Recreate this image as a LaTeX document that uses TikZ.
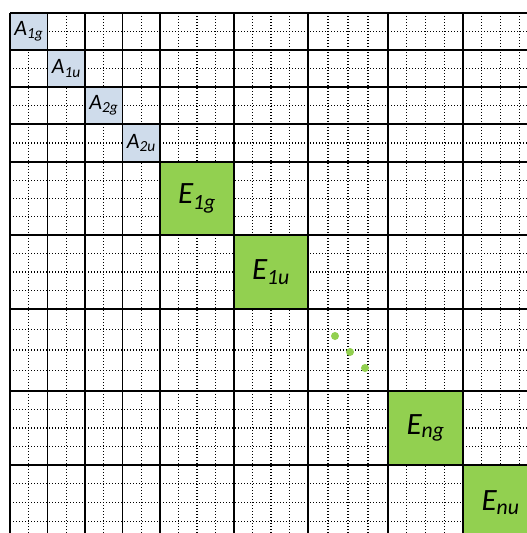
\documentclass[tikz,border=0pt]{standalone}
\usepackage{fontspec}
\setmainfont{Carlito}
\usepackage{tikz}
\definecolor{ablock}{HTML}{CFDCEB}
\definecolor{eblock}{HTML}{92D050}

\begin{document}
\begin{tikzpicture}[x=1pt, y=-1pt,
  major/.style={black, line width=1.6pt},
  minor/.style={black, line width=1.1pt, dash pattern=on 1.1pt off 1.9pt},
  ablk/.style={fill=ablock, inner sep=0pt, minimum width=37.5pt, minimum height=37pt,
    font=\fontsize{22}{22}\selectfont\itshape},
  eblk/.style={fill=eblock, inner sep=0pt, minimum width=74pt, minimum height=74pt,
    font=\fontsize{31}{31}\selectfont\itshape}]
  \useasboundingbox (0,0) rectangle (527,533);
  \clip (0,0) rectangle (527,533);

  % jemna mrizka
  \foreach \xa/\xb/\ya/\yb/\n in {10/47.5/13/50/2, 47.5/85/50/87/2, 85/122.5/87/124/2,
      122.5/160/124/162/2, 160/234/162/235/4, 234/308/235/309/4, 308/388/309/391/4,
      388/463/391/465/4, 463/538/465/540/4}
    \foreach \k in {1,2,3} {
      \ifnum\k<\n
        \pgfmathsetmacro\xx{\xa+(\xb-\xa)*\k/\n}
        \pgfmathsetmacro\yy{\ya+(\yb-\ya)*\k/\n}
        \draw[minor] (\xx,13) -- (\xx,540);
        \draw[minor] (10,\yy) -- (538,\yy);
      \fi
    }

  % bloky
  \node[ablk] (a1g) at (28.75,31.5) {A\textsubscript{1g}};
  \node[ablk] (a1u) at (66.25,68.5) {A\textsubscript{1u}};
  \node[ablk] (a2g) at (103.75,105.5) {A\textsubscript{2g}};
  \node[ablk] (a2u) at (141.25,143) {A\textsubscript{2u}};
  \node[eblk] (e1g) at (197,198.5) {E\textsubscript{1g}};
  \node[eblk] (e1u) at (271,272) {E\textsubscript{1u}};
  \node[eblk, minimum width=75pt] (eng) at (425.5,428) {E\textsubscript{ng}};
  \node[eblk, minimum width=75pt, minimum height=75pt] (enu) at (500.5,502.5) {E\textsubscript{nu}};

  % hlavni mrizka
  \foreach \x in {10,47.5,85,122.5,160,234,308,388,463}
    \draw[major] (\x,13) -- (\x,540);
  \foreach \y in {13,50,87,124,162,235,309,391,465}
    \draw[major] (10,\y) -- (538,\y);

  % tecky
  \foreach \x/\y in {335/336, 350/352, 365/368}
    \fill[eblock] (\x,\y) circle (4);
\end{tikzpicture}
\end{document}
